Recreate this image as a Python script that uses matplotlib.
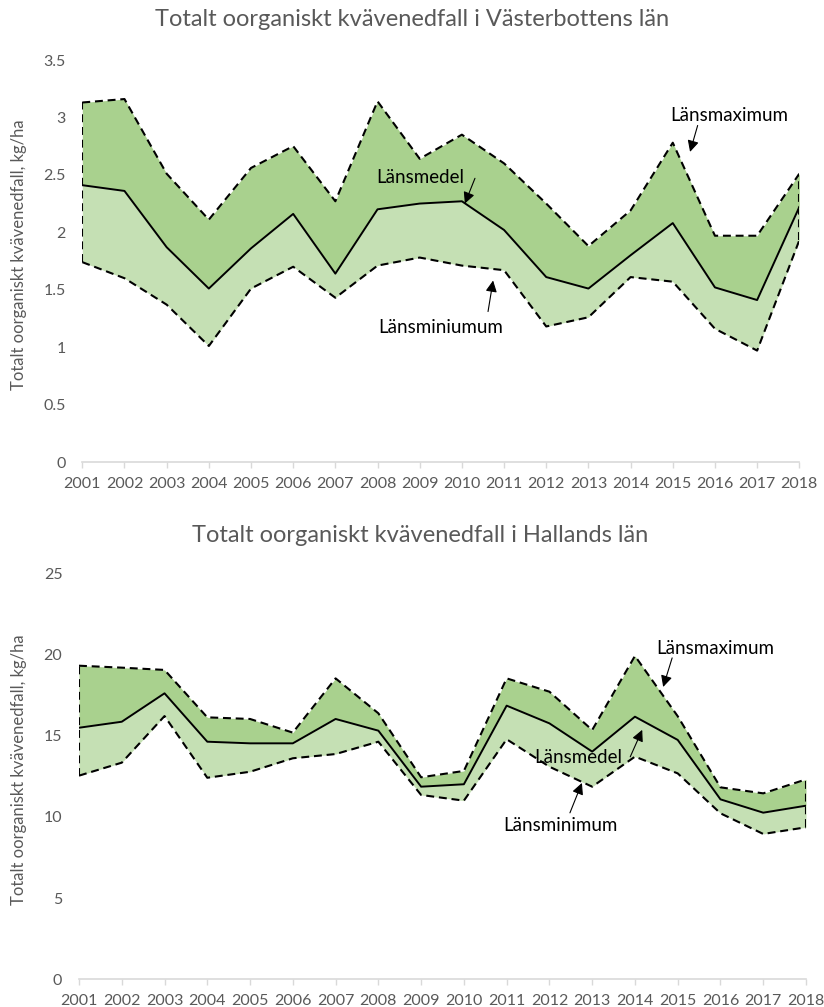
import matplotlib
matplotlib.use("Agg")
import matplotlib.pyplot as plt

plt.rcParams['font.family'] = ['Lato', 'DejaVu Sans']

years = list(range(2001, 2019))

# Västerbottens län
vb_max = [3.13, 3.16, 2.51, 2.11, 2.56, 2.75, 2.27, 3.14, 2.64, 2.85, 2.60, 2.25, 1.88, 2.19, 2.78, 1.97, 1.97, 2.51]
vb_mean = [2.41, 2.36, 1.87, 1.51, 1.86, 2.16, 1.64, 2.20, 2.25, 2.27, 2.02, 1.61, 1.51, 1.80, 2.08, 1.52, 1.41, 2.22]
vb_min = [1.74, 1.60, 1.37, 1.01, 1.51, 1.70, 1.43, 1.71, 1.78, 1.71, 1.67, 1.18, 1.26, 1.61, 1.57, 1.16, 0.97, 1.93]

# Hallands län
ha_max = [19.31, 19.19, 19.05, 16.13, 16.03, 15.19, 18.53, 16.38, 12.44, 12.83, 18.53, 17.71, 15.35, 19.91, 16.2, 11.82, 11.45, 12.31]
ha_mean = [15.49, 15.86, 17.61, 14.63, 14.53, 14.53, 16.03, 15.31, 11.86, 12.01, 16.85, 15.76, 14.02, 16.17, 14.74, 11.08, 10.26, 10.69]
ha_min = [12.54, 13.34, 16.21, 12.41, 12.78, 13.61, 13.87, 14.63, 11.35, 11.00, 14.78, 13.09, 11.86, 13.71, 12.68, 10.22, 8.95, 9.36]

titles = ["Totalt oorganiskt kvävenedfall i Västerbottens län",
          "Totalt oorganiskt kvävenedfall i Hallands län"]
ylabel = "Totalt oorganiskt kvävenedfall, kg/ha"

DARK = "#a9d18e"
LIGHT = "#c5e0b4"
GRAY = "#595959"

W, H = 824, 1007
fig = plt.figure(figsize=(W / 100, H / 100), dpi=100)


def px_axes(x0, y0, x1, y1):
    return fig.add_axes([x0 / W, 1 - y1 / H, (x1 - x0) / W, (y1 - y0) / H])


def draw(ax, vmax, vmean, vmin, ymax, ystep):
    ax.fill_between(years, vmean, vmax, color=DARK, lw=0)
    ax.fill_between(years, vmin, vmean, color=LIGHT, lw=0)
    ds = (0, (3.8, 2.3))
    ax.plot(years, vmax, color="black", lw=1.5, linestyle=ds)
    ax.plot(years, vmin, color="black", lw=1.5, linestyle=ds)
    ax.plot(years, vmean, color="black", lw=1.4)
    ax.plot([years[0], years[0]], [vmin[0], vmax[0]], color="black", lw=1.5, linestyle=ds)
    ax.plot([years[-1], years[-1]], [vmin[-1], vmax[-1]], color="black", lw=1.5, linestyle=ds)
    ax.set_xlim(years[0], years[-1])
    ax.set_ylim(0, ymax)
    ticks = [i * ystep for i in range(int(round(ymax / ystep)) + 1)]
    ax.set_yticks(ticks)
    ax.set_yticklabels(["%g" % t for t in ticks])
    ax.set_xticks(years)
    ax.set_xticklabels([str(y) for y in years])
    for s in ["top", "right", "left"]:
        ax.spines[s].set_visible(False)
    ax.spines["bottom"].set_color("#d9d9d9")
    ax.spines["bottom"].set_linewidth(1.2)
    ax.tick_params(axis="x", colors="#d9d9d9", length=4, width=1.0, pad=6.5,
                   labelcolor=GRAY, labelsize=11.5)
    ax.tick_params(axis="y", length=0, pad=12, labelcolor=GRAY, labelsize=11.5)


ax1 = px_axes(82.3, 60, 799.3, 462)
draw(ax1, vb_max, vb_mean, vb_min, 3.5, 0.5)
ax2 = px_axes(79, 573.3, 806, 979.3)
draw(ax2, ha_max, ha_mean, ha_min, 25, 5)

fig.text(412 / W, 1 - 20 / H, titles[0], ha="center", va="center", color=GRAY, fontsize=17)
fig.text(420 / W, 1 - 536 / H, titles[1], ha="center", va="center", color=GRAY, fontsize=17)
fig.text(19 / W, 1 - 255 / H, ylabel, rotation=90, ha="center", va="center", color=GRAY, fontsize=12)
fig.text(19 / W, 1 - 770 / H, ylabel, rotation=90, ha="center", va="center", color=GRAY, fontsize=12)

arrow = dict(arrowstyle="-|>", color="black", lw=0.8, mutation_scale=17, shrinkA=0, shrinkB=0)
ann_fs = 13.5

# top annotations
ax1.text(2016.33, 3.02, "Länsmaximum", ha="center", va="center", fontsize=ann_fs)
ax1.annotate("", xy=(2015.41, 2.70), xytext=(2015.59, 2.93), arrowprops=arrow)
ax1.text(2009.01, 2.48, "Länsmedel", ha="center", va="center", fontsize=ann_fs)
ax1.annotate("", xy=(2010.07, 2.25), xytext=(2010.31, 2.47), arrowprops=arrow)
ax1.text(2009.49, 1.17, "Länsminiumum", ha="center", va="center", fontsize=ann_fs)
ax1.annotate("", xy=(2010.74, 1.58), xytext=(2010.62, 1.31), arrowprops=arrow)

# bottom annotations
ax2.text(2015.87, 20.34, "Länsmaximum", ha="center", va="center", fontsize=ann_fs)
ax2.annotate("", xy=(2014.66, 18.0), xytext=(2014.87, 19.79), arrowprops=arrow)
ax2.text(2012.67, 13.63, "Länsmedel", ha="center", va="center", fontsize=ann_fs)
ax2.annotate("", xy=(2014.17, 15.36), xytext=(2013.89, 13.70), arrowprops=arrow)
ax2.text(2012.25, 9.50, "Länsminimum", ha="center", va="center", fontsize=ann_fs)
ax2.annotate("", xy=(2012.76, 12.09), xytext=(2012.48, 10.25), arrowprops=arrow)

fig.savefig("out.png", dpi=100)
